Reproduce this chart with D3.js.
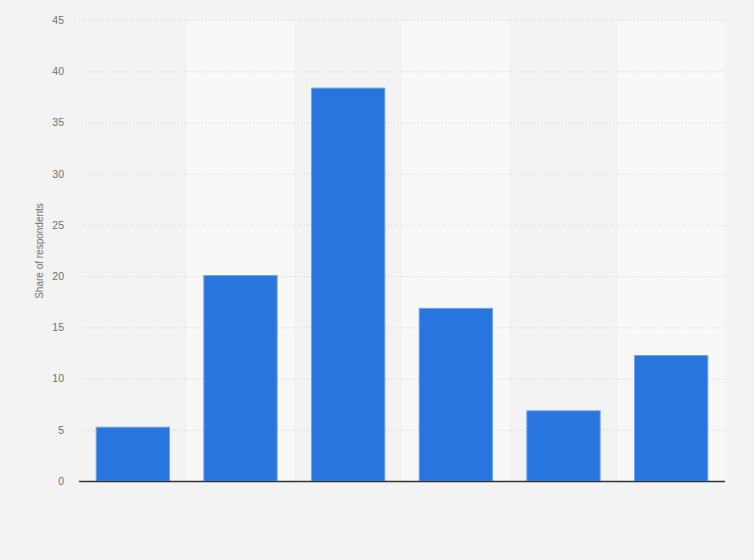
<!DOCTYPE html>
<html>
<head>
<meta charset="utf-8">
<script src="https://cdn.jsdelivr.net/npm/d3@7"></script>
<style>
html,body{margin:0;padding:0;background:#f3f3f3;}
svg{display:block;}
</style>
</head>
<body>
<svg id="chart" width="754" height="560"></svg>
<script>
const categories = ["A", "B", "C", "D", "E", "F"];
const values = [5.3, 20.1, 38.4, 16.9, 6.9, 12.3];
const yTicks = [0, 5, 10, 15, 20, 25, 30, 35, 40, 45];
const yTitle = "Share of respondents";

const svg = d3.select("#chart");
const margin = {left: 79, right: 29, top: 20, bottom: 79};
const W = 754, H = 560;

const x = d3.scaleBand().domain(categories).range([margin.left, W - margin.right]).paddingInner(0.31).paddingOuter(0.155);
const xb = d3.scaleBand().domain(categories).range([margin.left, W - margin.right]).padding(0);
const y = d3.scaleLinear().domain([0, 45]).range([H - margin.bottom, margin.top]);

svg.append("rect").attr("width", W).attr("height", H).attr("fill", "#f3f3f3");

// alternating bands
svg.append("g").selectAll("rect").data(categories).join("rect")
  .attr("x", d => xb(d))
  .attr("y", y(45))
  .attr("width", xb.bandwidth())
  .attr("height", y(0) - y(45))
  .attr("fill", (d, i) => i % 2 === 1 ? "#f8f8f8" : "#f3f3f3");

// grid
svg.append("g").selectAll("line").data(yTicks.filter(t => t > 0)).join("line")
  .attr("x1", margin.left).attr("x2", W - margin.right)
  .attr("y1", d => y(d) + 0.5).attr("y2", d => y(d) + 0.5)
  .attr("stroke", "#d2d2d2").attr("stroke-width", 1).attr("stroke-dasharray", "1,2");

// y axis labels
const yAxis = d3.axisLeft(y).tickValues(yTicks).tickSize(0).tickPadding(15);
const ga = svg.append("g").attr("transform", `translate(${margin.left},0)`).call(yAxis);
ga.select(".domain").remove();
ga.selectAll("text").attr("fill", "#707070").attr("font-family", "'Liberation Sans', Arial, sans-serif").attr("font-size", "10.5px");

// bars
svg.append("g").selectAll("rect").data(values).join("rect")
  .attr("x", (d, i) => x(categories[i]) + 0.5)
  .attr("y", d => y(d) + 0.5)
  .attr("width", x.bandwidth() - 1)
  .attr("height", d => y(0) - y(d) - 0.5)
  .attr("fill", "#2876dd")
  .attr("stroke", "#6fa3ea").attr("stroke-width", 1);

// baseline
svg.append("line")
  .attr("x1", margin.left).attr("x2", W - margin.right)
  .attr("y1", y(0) + 0.5).attr("y2", y(0) + 0.5)
  .attr("stroke", "#333").attr("stroke-width", 1.5);

// y title
svg.append("text")
  .attr("transform", `translate(43,251) rotate(-90)`)
  .attr("text-anchor", "middle")
  .attr("fill", "#707070").attr("font-family", "'Liberation Sans', Arial, sans-serif").attr("font-size", "10px")
  .text(yTitle);
</script>
</body>
</html>
